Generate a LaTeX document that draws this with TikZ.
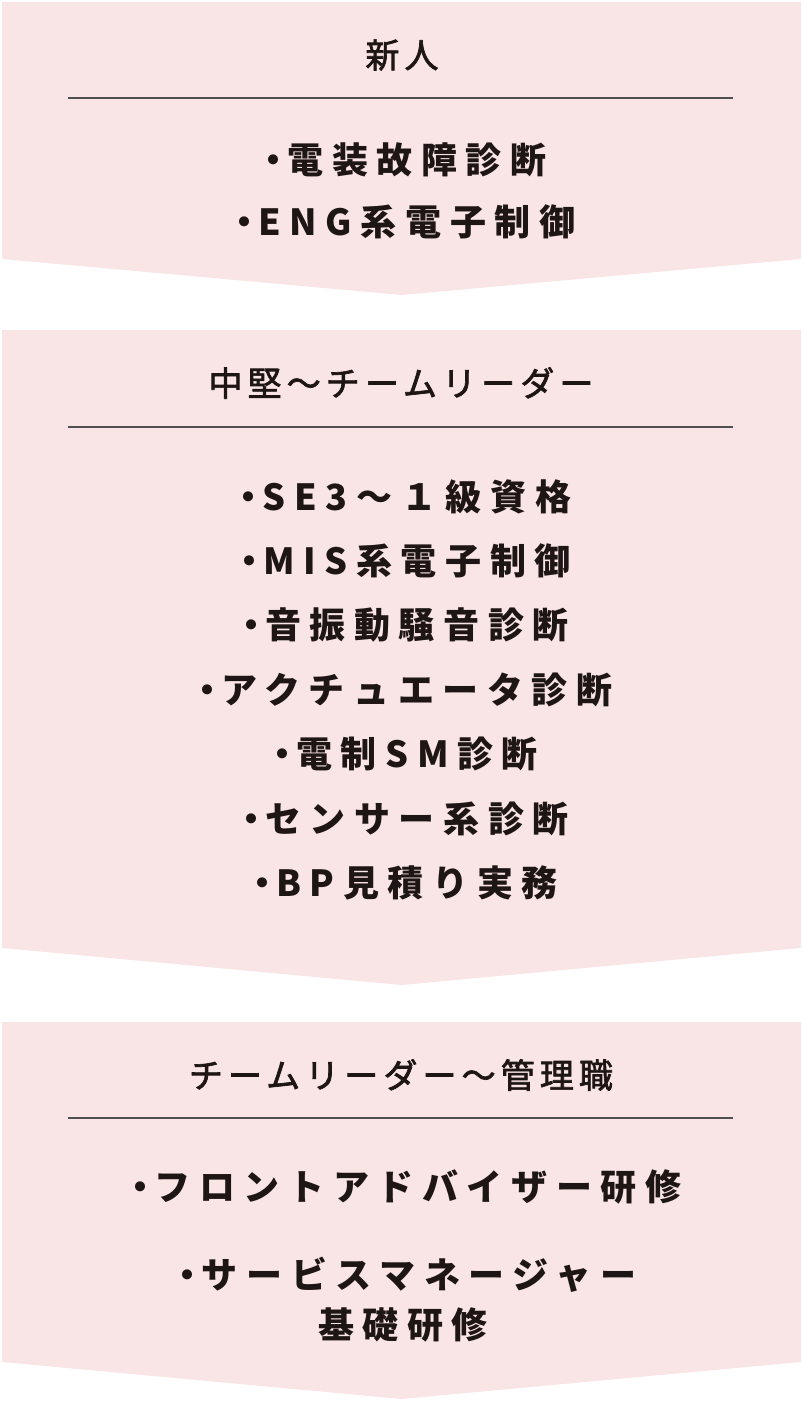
\documentclass[tikz,border=0pt]{standalone}
\usepackage{fontspec}
\setmainfont{Noto Sans CJK JP}
\newfontfamily\headfont{Noto Sans CJK JP}[LetterSpace=15, FakeBold=2]
\newfontfamily\itemfont{Noto Sans CJK JP}[LetterSpace=24]
\newcommand\dotmark{・\kern-4pt}
\usetikzlibrary{positioning}
\definecolor{panelpink}{RGB}{249,229,229}
\definecolor{rulegray}{RGB}{80,80,80}
\definecolor{inkblack}{RGB}{30,22,20}

\begin{document}
\begin{tikzpicture}[x=1pt, y=-1pt,
  panel/.style={fill=panelpink, draw=none},
  rule/.style={draw=rulegray, line width=1.3pt},
  head/.style={font=\headfont\fontsize{34}{38}\selectfont, text=inkblack, inner sep=0pt},
  item/.style={font=\itemfont\bfseries\fontsize{36}{40}\selectfont, text=inkblack, inner sep=0pt, text height=0.8em, text depth=0.2em, minimum height=64pt}
]
\useasboundingbox (0,0) rectangle (803,1402);

% panels with arrow bottoms
\path[panel] (2,2) -- (801,2) -- (801,259) -- (401.5,295) -- (2,259) -- cycle;
\path[panel] (2,330) -- (801,330) -- (801,948) -- (401.5,985) -- (2,948) -- cycle;
\path[panel] (2,1022) -- (801,1022) -- (801,1362) -- (401.5,1399) -- (2,1362) -- cycle;

% separators
\draw[rule] (68,98) -- (733,98);
\draw[rule] (68,427) -- (733,427);
\draw[rule] (68,1118) -- (733,1118);

% newcomer
\node[head] (newbie) at (402,55) {新人};
\node[item, minimum height=62pt] (elec) at (401,170) {\dotmark 電装故障診断};
\node[item, minimum height=62pt, below=0pt of elec] (eng) {\dotmark ENG系電子制御};

% mid-level to team leader
\node[head] (mid) at (401,383) {中堅〜チームリーダー};
\node[item] (se) at (401,507) {\dotmark SE3〜１級資格};
\node[item, below=0pt of se] (mis) {\dotmark MIS系電子制御};
\node[item, below=0pt of mis] (nvh) {\dotmark 音振動騒音診断};
\node[item, below=0pt of nvh] (act) {\dotmark アクチュエータ診断};
\node[item, below=0pt of act] (sm) {\dotmark 電制SM診断};
\node[item, below=0pt of sm] (sensor) {\dotmark センサー系診断};
\node[item, below=0pt of sensor] (bp) {\dotmark BP見積り実務};

% team leader to manager
\node[head] (mgr) at (401,1075) {チームリーダー〜管理職};
\node[item] (front) at (402,1197) {\dotmark フロントアドバイザー研修};
\node[item, align=center, font=\itemfont\bfseries\fontsize{36}{50}\selectfont, text height=, text depth=] (svc) at (403,1300) {\dotmark サービスマネージャー\\基礎研修};
\end{tikzpicture}
\end{document}
